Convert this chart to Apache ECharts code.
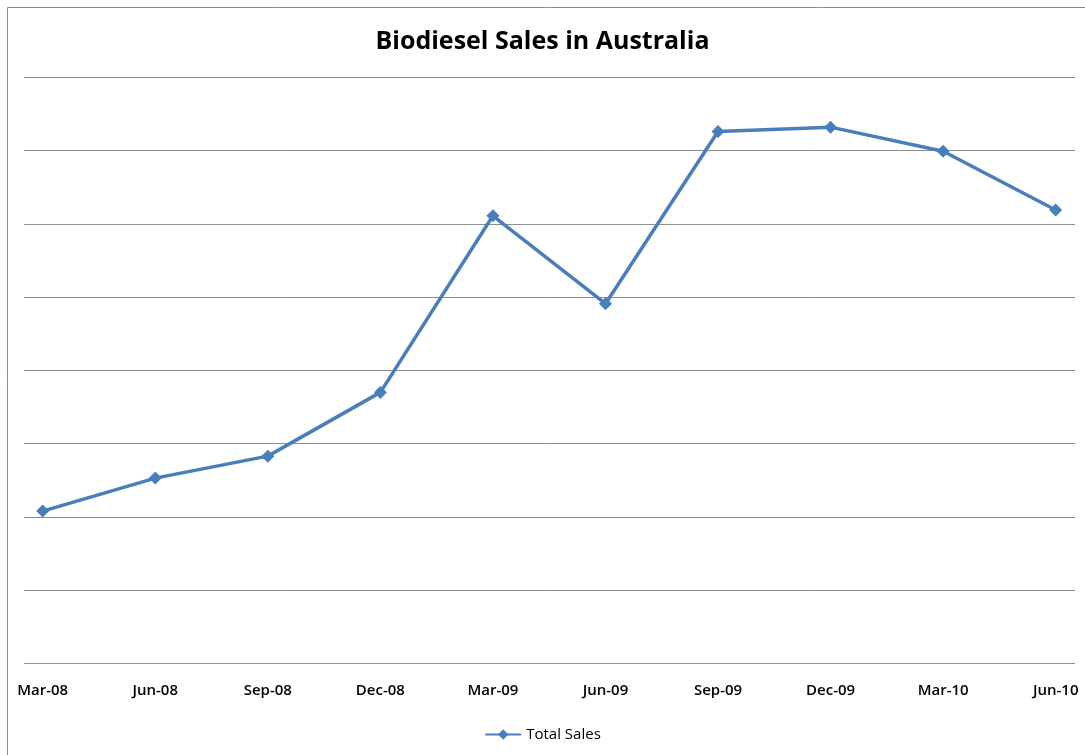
<!doctype html>
<html lang="en">
  <head>
    <meta charset="UTF-8" />
    <title>Biodiesel Sales in Australia</title>
    <script src="https://cdn.jsdelivr.net/npm/echarts/dist/echarts.min.js"></script>
    <style>
      html, body { margin: 0; padding: 0; background: #fff; }
      #main { width: 1085px; height: 755px; }
    </style>
  </head>
  <body>
    <div id="main"></div>
    <script>
      // quarters on the x axis
      const quarters = ["Mar-08", "Jun-08", "Sep-08", "Dec-08", "Mar-09", "Jun-09", "Sep-09", "Dec-09", "Mar-10", "Jun-10"];
      // total sales (axis has no labels, 8 bands of 10)
      const totalSales = [20.8, 25.3, 28.3, 37.0, 61.1, 49.1, 72.6, 73.2, 69.9, 61.9];

      const chart = echarts.init(document.getElementById("main"));
      const font = "'Open Sans', 'Noto Sans', sans-serif";

      const option = {
        backgroundColor: "#fff",
        animation: false,
        title: {
          text: "Biodiesel Sales in Australia",
          left: "center",
          top: 24,
          textStyle: { fontFamily: font, fontSize: 25, fontWeight: "bold", color: "#000" },
        },
        legend: {
          data: ["Total Sales"],
          bottom: 8,
          left: "center",
          itemWidth: 36,
          itemHeight: 13,
          itemGap: 4,
          textStyle: { fontFamily: font, fontSize: 15, color: "#000" },
        },
        // the second grid only carries the gridlines, which run a bit past the first and last point
        grid: [
          { left: 42.7, right: 29.3, top: 77.3, bottom: 91.5 },
          { left: 24, right: 10, top: 77.3, bottom: 91.5 },
        ],
        xAxis: [
          {
            type: "category",
            gridIndex: 0,
            data: quarters,
            boundaryGap: false,
            axisLine: { show: false },
            axisTick: { show: false },
            splitLine: { show: false },
            axisLabel: { fontFamily: font, fontSize: 15, fontWeight: 600, color: "#000", margin: 20, interval: 0 },
          },
          { type: "value", gridIndex: 1, show: false },
        ],
        yAxis: [
          {
            type: "value",
            gridIndex: 0,
            min: 0,
            max: 80,
            interval: 10,
            axisLabel: { show: false },
            axisLine: { show: false },
            axisTick: { show: false },
            splitLine: { show: false },
          },
          {
            type: "value",
            gridIndex: 1,
            min: 0,
            max: 80,
            interval: 10,
            axisLabel: { show: false },
            axisLine: { show: false },
            axisTick: { show: false },
            splitLine: { show: true, lineStyle: { color: "#8c8c8c", width: 1 } },
          },
        ],
        graphic: [
          {
            type: "polyline",
            shape: { points: [[7.5, 760], [7.5, 7.5], [1090, 7.5]] },
            style: { stroke: "#8a8a8a", lineWidth: 1, fill: null },
          },
        ],
        series: [
          {
            name: "Total Sales",
            type: "line",
            xAxisIndex: 0,
            yAxisIndex: 0,
            data: totalSales,
            symbol: "diamond",
            symbolSize: 13,
            lineStyle: { color: "#4a7ebb", width: 3.5 },
            itemStyle: { color: "#4a7ebb" },
          },
        ],
      };

      chart.setOption(option);
    </script>
  </body>
</html>
